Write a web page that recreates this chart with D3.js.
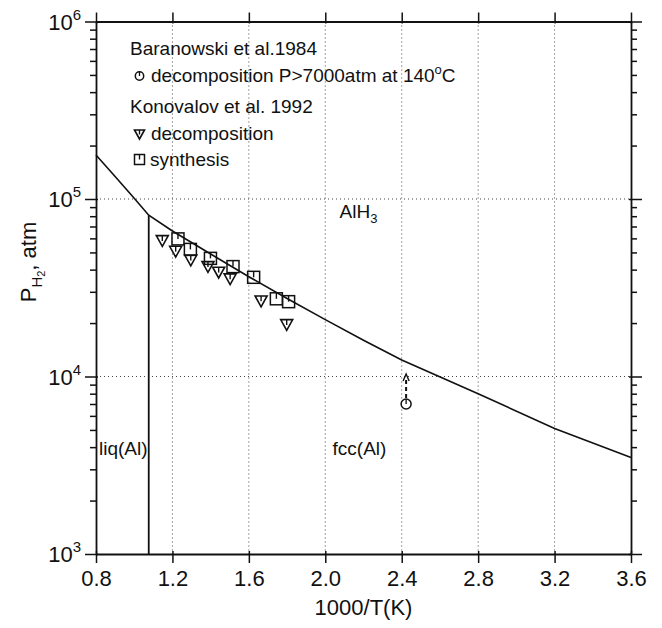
<!DOCTYPE html>
<html><head><meta charset="utf-8">
<script src="https://cdn.jsdelivr.net/npm/d3@7/dist/d3.min.js"></script>
<style>
body{margin:0;background:#fff;}
text{font-family:"Liberation Sans",Arial,Helvetica,sans-serif;fill:#111;}
</style></head>
<body>
<svg id="chart" width="662" height="628"></svg>
<script>
// ---- data ----
const curveX = [0.8, 0.9, 1.0, 1.076, 1.2, 1.4, 1.6, 1.8, 2.0, 2.2, 2.4, 2.8, 3.2, 3.6];
const curveP = [177000, 134000, 101000, 81000, 66000, 49000, 36500, 27500, 20900, 16000, 12400, 8000, 5100, 3500];
const liqBoundaryX = [1.076, 1.076];
const liqBoundaryP = [1000, 81000];
const decompX = [1.147, 1.217, 1.296, 1.386, 1.442, 1.502, 1.664, 1.798];
const decompP = [58000, 50500, 45000, 41400, 38500, 35300, 26500, 19500];
const synthX = [1.229, 1.294, 1.399, 1.517, 1.625, 1.744, 1.808];
const synthP = [59600, 52000, 46300, 41600, 36200, 27400, 26400];
const baraX = [2.423];
const baraP = [7000];
const baraArrowTopP = 10200;
const xTicks = [0.8, 1.2, 1.6, 2.0, 2.4, 2.8, 3.2, 3.6];
const xTickLabels = ["0.8", "1.2", "1.6", "2.0", "2.4", "2.8", "3.2", "3.6"];
const yDecades = [1e3, 1e4, 1e5, 1e6];
const yDecadeExp = ["3", "4", "5", "6"];
const xGrid = [1.2, 1.6, 2.0, 2.4, 2.8, 3.2];
const yGrid = [1e4, 1e5];

// ---- layout ----
const svg = d3.select("#chart");
const L = 96, R = 631, T = 21.5, B = 554;
const x = d3.scaleLinear().domain([0.8, 3.6]).range([L, R]);
const y = d3.scaleLog().domain([1e3, 1e6]).range([B, T]);

// minor ticks
const yMinor = [];
for (let d = 1e3; d < 1e6; d *= 10) for (let k = 2; k <= 9; k++) yMinor.push(d * k);

// grid
const grid = svg.append("g").attr("stroke", "#444").attr("stroke-width", 1).attr("stroke-dasharray", "1,3");
grid.selectAll("line.vx").data(xGrid).enter().append("line")
  .attr("x1", d => x(d)).attr("x2", d => x(d)).attr("y1", T).attr("y2", B);
grid.selectAll("line.hy").data(yGrid).enter().append("line")
  .attr("y1", d => y(d)).attr("y2", d => y(d)).attr("x1", L).attr("x2", R);

// axes
function styleAxis(g) {
  g.select(".domain").attr("stroke", "#111").attr("stroke-width", 1.8);
  g.selectAll(".tick line").attr("stroke", "#111").attr("stroke-width", 1.5);
}
const xb = svg.append("g").attr("transform", `translate(0,${B})`)
  .call(d3.axisBottom(x).tickValues(xTicks).tickSizeInner(9).tickSizeOuter(0).tickPadding(0)
    .tickFormat((d, i) => xTickLabels[i]));
styleAxis(xb);
xb.selectAll(".tick line").attr("y1", -3);
xb.selectAll(".tick text").attr("font-size", 22).attr("fill", "#111").attr("dy", null).attr("y", 32);

const xt = svg.append("g").attr("transform", `translate(0,${T})`)
  .call(d3.axisTop(x).tickValues(xTicks).tickSizeInner(9).tickSizeOuter(0).tickFormat(""));
styleAxis(xt);
xt.selectAll(".tick line").attr("y1", 2);

function yAxisSide(gen, tr, sign) {
  const g = svg.append("g").attr("transform", tr)
    .call(gen(y).tickValues(yMinor.concat(yDecades)).tickSizeInner(6).tickSizeOuter(0).tickFormat(""));
  styleAxis(g);
  g.selectAll(".tick line").attr("x2", d => (yDecades.includes(d) ? 11 : 6) * sign)
    .attr("x1", d => (yDecades.includes(d) ? -2 : 0) * sign);
  return g;
}
yAxisSide(d3.axisLeft, `translate(${L},0)`, -1);
yAxisSide(d3.axisRight, `translate(${R},0)`, 1);

// y labels 10^n
const yl = svg.append("g");
yDecades.forEach((d, i) => {
  const t = yl.append("text").attr("x", 81).attr("y", y(d) + 8).attr("text-anchor", "end").attr("font-size", 22);
  t.append("tspan").text("10");
  t.append("tspan").attr("font-size", 15).attr("dy", -10).text(yDecadeExp[i]);
});

// axis titles
svg.append("text").attr("x", (L + R) / 2).attr("y", 615).attr("text-anchor", "middle")
  .attr("font-size", 22).text("1000/T(K)");
const yt = svg.append("text").attr("transform", `translate(36,262) rotate(-90)`)
  .attr("text-anchor", "middle").attr("font-size", 22);
yt.append("tspan").text("P");
yt.append("tspan").attr("font-size", 15).attr("dy", 6).text("H");
yt.append("tspan").attr("font-size", 11).attr("dy", 3).text("2");
yt.append("tspan").attr("dy", -9).text(", atm");

// curve
const line = d3.line().x(d => x(d[0])).y(d => y(d[1]));
svg.append("path").datum(curveX.map((v, i) => [v, curveP[i]]))
  .attr("d", line).attr("fill", "none").attr("stroke", "#111").attr("stroke-width", 1.6);
svg.append("path").datum(liqBoundaryX.map((v, i) => [v, liqBoundaryP[i]]))
  .attr("d", line).attr("fill", "none").attr("stroke", "#111").attr("stroke-width", 1.8);

// markers
function triDown(g, cx, cy, s) {
  const h = s * 0.9;
  g.append("path").attr("d", `M${cx - s / 2},${cy - h / 2}L${cx + s / 2},${cy - h / 2}L${cx},${cy + h / 2}Z`)
    .attr("fill", "#fff").attr("stroke", "#111").attr("stroke-width", 1.6);
  g.append("line").attr("x1", cx).attr("x2", cx).attr("y1", cy - h / 2).attr("y2", cy)
    .attr("stroke", "#111").attr("stroke-width", 1.4);
}
function square(g, cx, cy, s) {
  g.append("rect").attr("x", cx - s / 2).attr("y", cy - s / 2).attr("width", s).attr("height", s)
    .attr("fill", "none").attr("stroke", "#111").attr("stroke-width", 1.5);
  g.append("line").attr("x1", cx).attr("x2", cx).attr("y1", cy - s / 2).attr("y2", cy)
    .attr("stroke", "#111").attr("stroke-width", 1.4);
}
function circ(g, cx, cy, r) {
  g.append("circle").attr("cx", cx).attr("cy", cy).attr("r", r)
    .attr("fill", "#fff").attr("stroke", "#111").attr("stroke-width", 1.5);
  g.append("line").attr("x1", cx).attr("x2", cx).attr("y1", cy - r).attr("y2", cy)
    .attr("stroke", "#111").attr("stroke-width", 1.3);
}
const mk = svg.append("g");
decompX.forEach((v, i) => triDown(mk, x(v), y(decompP[i]), 12));
synthX.forEach((v, i) => square(mk, x(v), y(synthP[i]), 12));

// Baranowski point with dashed arrow
baraX.forEach((v, i) => {
  const cx = x(v), cy = y(baraP[i]), top = y(baraArrowTopP);
  mk.append("line").attr("x1", cx).attr("x2", cx).attr("y1", cy - 6).attr("y2", top + 2)
    .attr("stroke", "#111").attr("stroke-width", 2).attr("stroke-dasharray", "4,3");
  mk.append("path").attr("d", `M${cx - 3},${top + 6}L${cx},${top - 1}L${cx + 3},${top + 6}`)
    .attr("fill", "none").attr("stroke", "#111").attr("stroke-width", 1.4);
  circ(mk, cx, cy, 5);
});

// region labels
svg.append("text").attr("x", x(2.075)).attr("y", y(78000)).attr("font-size", 19)
  .call(t => { t.append("tspan").text("AlH"); t.append("tspan").attr("font-size", 13).attr("dy", 5).text("3"); });
svg.append("text").attr("x", x(2.038)).attr("y", y(3600)).attr("font-size", 19).text("fcc(Al)");
svg.append("text").attr("x", L + 3).attr("y", y(3600)).attr("font-size", 19).text("liq(Al)");

// legend
const lg = svg.append("g");
lg.append("text").attr("x", 130).attr("y", 55).attr("font-size", 19).text("Baranowski et al.1984");
circ(lg, 139.5, 76, 4.2);
lg.append("text").attr("x", 151).attr("y", 82).attr("font-size", 19)
  .call(t => {
    t.append("tspan").text("decomposition P>7000atm at 140");
    t.append("tspan").attr("font-size", 13).attr("dy", -8).text("o");
    t.append("tspan").attr("dy", 8).text("C");
  });
lg.append("text").attr("x", 130).attr("y", 113).attr("font-size", 19).text("Konovalov et al. 1992");
triDown(lg, 139.5, 134.5, 10);
lg.append("text").attr("x", 151).attr("y", 139.5).attr("font-size", 19).text("decomposition");
square(lg, 139.5, 159.5, 10);
lg.append("text").attr("x", 150).attr("y", 165.5).attr("font-size", 19).text("synthesis");
</script>
</body></html>
